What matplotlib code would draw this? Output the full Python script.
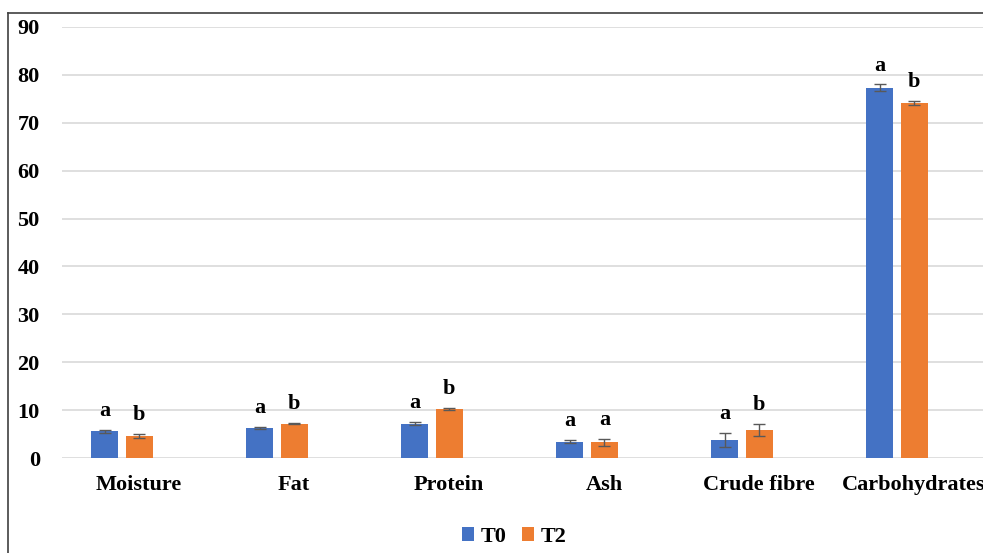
import numpy as np
import matplotlib.pyplot as plt
from matplotlib.lines import Line2D

# data
categories = ['Moisture', 'Fat', 'Protein', 'Ash', 'Crude fibre', 'Carbohydrates']
t0_vals = [5.6, 6.2, 7.2, 3.4, 3.8, 77.3]
t0_err = [0.3, 0.2, 0.4, 0.3, 1.5, 0.7]
t2_vals = [4.6, 7.2, 10.2, 3.3, 5.9, 74.2]
t2_err = [0.5, 0.2, 0.2, 0.7, 1.3, 0.4]
t0_letters = ['a', 'a', 'a', 'a', 'a', 'a']
t2_letters = ['b', 'b', 'b', 'a', 'b', 'b']

blue = '#4472C4'
orange = '#ED7D31'
font = ['Liberation Serif', 'DejaVu Serif']

fig = plt.figure(figsize=(9.83, 5.53), dpi=100)
ax = fig.add_axes([62 / 983, 1 - 458 / 553, 1 - 62 / 983, (458 - 27) / 553])

x = np.arange(len(categories))
w = 0.175
off = 0.112

ax.bar(x - off, t0_vals, w, color=blue, label='T0', zorder=3,
       yerr=t0_err, error_kw=dict(ecolor='#595959', elinewidth=1, capsize=4, capthick=1))
ax.bar(x + off, t2_vals, w, color=orange, label='T2', zorder=3,
       yerr=t2_err, error_kw=dict(ecolor='#595959', elinewidth=1, capsize=4, capthick=1))

# significance letters
for i in range(len(categories)):
    ax.annotate(t0_letters[i], (x[i] - off, t0_vals[i] + t0_err[i]), xytext=(0, 10),
                textcoords='offset points', ha='center', va='baseline',
                fontsize=16, fontweight='bold', family=font)
    ax.annotate(t2_letters[i], (x[i] + off, t2_vals[i] + t2_err[i]), xytext=(0, 10),
                textcoords='offset points', ha='center', va='baseline',
                fontsize=16, fontweight='bold', family=font)

ax.set_ylim(0, 90)
ax.set_yticks(range(0, 91, 10))
ax.set_xlim(-0.387, 5.555)
ax.set_xticks(x + 0.11)
ax.set_xticklabels(categories)
ax.tick_params(length=0)
ax.tick_params(axis='y', pad=16)
ax.tick_params(axis='x', pad=12)
for lab in ax.get_xticklabels() + ax.get_yticklabels():
    lab.set_fontsize(16)
    lab.set_fontweight('bold')
    lab.set_family(font)

ax.grid(axis='y', color='#d9d9d9', linewidth=1.2, zorder=0)
for s in ax.spines.values():
    s.set_visible(False)

leg = fig.legend(loc='center', bbox_to_anchor=(0.523, 0.029), ncol=2, frameon=False,
                 handlelength=0.55, handleheight=0.55, handletextpad=0.3, columnspacing=0.7,
                 prop=dict(family=font, size=16, weight='bold'))

# outer border (cropped on right and bottom)
fig.add_artist(Line2D([8 / 983, 8 / 983], [0, 1 - 13 / 553], transform=fig.transFigure,
                      color='#404040', linewidth=1.2))
fig.add_artist(Line2D([8 / 983, 1], [1 - 13 / 553, 1 - 13 / 553], transform=fig.transFigure,
                      color='#404040', linewidth=1.2))

fig.savefig('out.png', dpi=100)
